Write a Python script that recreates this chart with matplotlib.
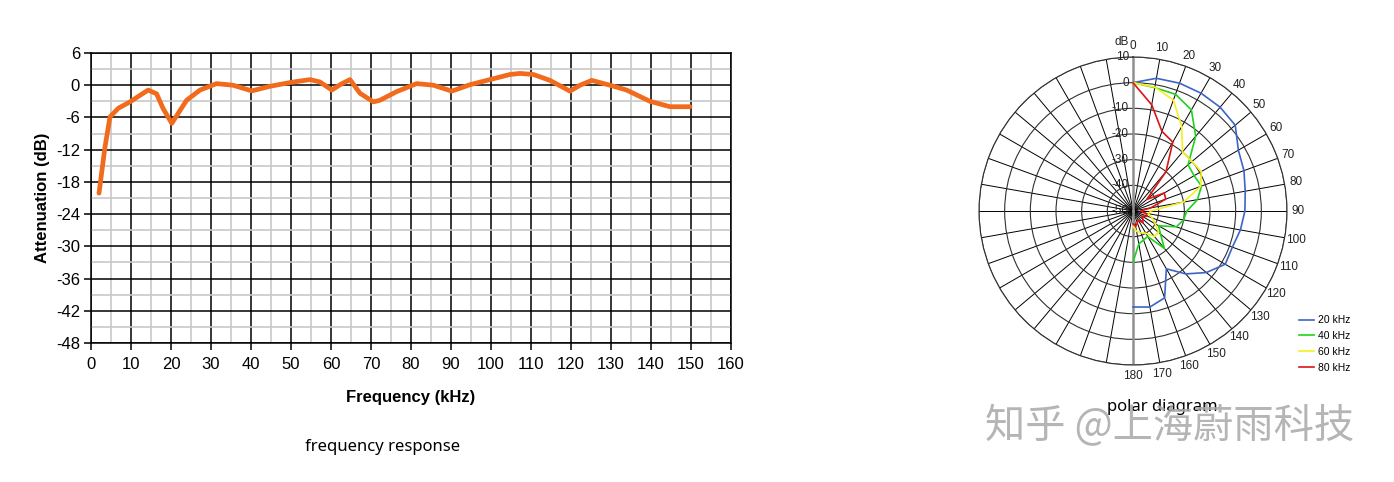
import numpy as np
import matplotlib
matplotlib.use("Agg")
import matplotlib.pyplot as plt
from matplotlib.ticker import MultipleLocator

plt.rcParams['font.family'] = ['Liberation Sans', 'DejaVu Sans']
plt.rcParams['axes.unicode_minus'] = False

# frequency response (kHz, dB)
freq_khz = [2, 3.5, 4.75, 6.8, 9.75, 12, 14.3, 16.4, 18, 20.2, 22, 23.9, 27.25,
            31.4, 35.5, 40.2, 44.75, 49.75, 54.75, 57.25, 60.2, 62.5, 64.75,
            67.25, 70.6, 72.25, 76.4, 81.4, 85.6, 90.2, 94.75, 99.75, 104.75,
            107.25, 110.6, 114.75, 119.75, 122.25, 125.2, 129.75, 133.9,
            139.75, 144.75, 149.75]
atten_db = [-20.1, -11.5, -5.9, -4.3, -3.1, -2.0, -0.9, -1.6, -4.3, -7.1, -5.0,
            -2.8, -0.9, 0.3, 0.0, -1.05, -0.2, 0.5, 1.05, 0.6, -0.9, 0.2, 1.05,
            -1.5, -3.1, -2.8, -1.2, 0.3, 0.0, -1.1, 0.1, 1.05, 2.0, 2.2, 2.0,
            0.9, -1.1, 0.0, 0.9, 0.0, -0.9, -3.0, -4.0, -4.0]

# polar diagram (deg, dB)
angles_deg = list(range(0, 190, 10))
db_20k = [0, 2.5, 3, 3, 2.8, 2, -2.6, -4, -5.6, -6.4, -7.5, -8.8, -8.5, -12.7,
          -18, -24, -14, -12, -12.6]
db_40k = [0, -1.2, -1.6, -4.5, -12, -22, -22.5, -21.6, -24.5, -29, -30, -32,
          -38.5, -36, -31, -38.5, -38, -37, -30]
db_60k = [0, -1, -4, -12, -20, -20, -19.3, -22, -30, -43, -44, -42, -40, -37,
          -37, -40, -41, -42, -44]
db_80k = [0, -8, -17, -19, -30, -43, -36, -36.4, -43, -47, -45, -44, -46, -45,
          -44, -46, -45, -44, -45]
series_labels = ['20 kHz', '40 kHz', '60 kHz', '80 kHz']
series_colors = ['#3c64c8', '#1ed21e', '#f5f01e', '#dc1414']

W, H = 1394, 482
fig = plt.figure(figsize=(W / 100, H / 100), dpi=100)

# ---- left: frequency response
ax = fig.add_axes([91 / W, 1 - 343 / H, 640 / W, 290 / H])
ax.plot(freq_khz, atten_db, color='#f26a1b', lw=3.4,
        solid_joinstyle='round', solid_capstyle='round', zorder=3)
ax.set_xlim(0, 160)
ax.set_ylim(-48, 6)
ax.set_xticks(range(0, 161, 10))
ax.set_yticks(range(-48, 7, 6))
ax.xaxis.set_minor_locator(MultipleLocator(5))
ax.yaxis.set_minor_locator(MultipleLocator(3))
ax.set_axisbelow(True)
ax.grid(which='major', color='black', lw=1.1)
ax.grid(which='minor', color='#c8c8c8', lw=1.2)
ax.tick_params(which='major', length=5, width=1.1, color='black',
               labelsize=12, pad=3)
ax.tick_params(axis='x', pad=5)
ax.tick_params(which='minor', length=0)
for s in ax.spines.values():
    s.set_color('black')
    s.set_linewidth(1.1)
ax.set_xlabel('Frequency (kHz)', fontsize=12, fontweight='bold', labelpad=13)
ax.set_ylabel('Attenuation (dB)', fontsize=12, fontweight='bold', labelpad=4)
fig.text(383 / W, 1 - 447 / H, 'frequency response', ha='center', va='center',
         fontsize=12, family=['Noto Sans', 'DejaVu Sans'])

# ---- right: polar diagram
r = 154
pax = fig.add_axes([(1133 - r) / W, 1 - (211 + r) / H, 2 * r / W, 2 * r / H],
                   projection='polar')
pax.set_theta_zero_location('N')
pax.set_theta_direction(-1)
th = np.radians(angles_deg)
for vals, lab, col in zip([db_20k, db_40k, db_60k, db_80k],
                          series_labels, series_colors):
    pax.plot(th, vals, color=col, lw=1.2, label=lab, zorder=3)
pax.set_ylim(-50, 10)
pax.set_yticks(range(-50, 11, 10))
pax.set_yticklabels([])
grid_angles = list(range(0, 360, 10))
pax.set_thetagrids(grid_angles,
                   [str(a) if a <= 180 else '' for a in grid_angles])
pax.tick_params(axis='x', labelsize=8.5, pad=-2.5, colors='#222222')
pax.xaxis.grid(True, color='black', lw=0.7)
pax.yaxis.grid(True, color='#303030', lw=0.8)
pax.spines['polar'].set_color('#303030')
pax.spines['polar'].set_linewidth(0.8)
pax.axvline(0, color='#909090', lw=1.8, zorder=2)
pax.axvline(np.pi, color='#909090', lw=1.8, zorder=2)
for v in range(-50, 11, 10):
    pax.annotate(str(v), xy=(0, v), xytext=(-4, 0), textcoords='offset pixels',
                 ha='right', va='center', fontsize=8.5, color='#222222')
pax.annotate('dB', xy=(0, 10), xytext=(-4, 15), textcoords='offset pixels',
             ha='right', va='center', fontsize=8.5, color='#222222')

fig.legend(loc='upper left', bbox_to_anchor=(1290 / W, 1 - 306 / H),
           frameon=False, fontsize=7.5, handlelength=1.4, handletextpad=0.4,
           labelspacing=0.55)

fig.text(1162 / W, 1 - 407 / H, 'polar diagram', ha='center', va='center',
         fontsize=12, family=['Noto Sans', 'DejaVu Sans'])
fig.text(1170 / W, 1 - 426 / H, '知乎 @上海蔚雨科技', ha='center', va='center',
         fontsize=29, color='#a8a8a8', alpha=0.85,
         family=['Noto Sans CJK SC', 'DejaVu Sans'])

fig.savefig('out.png', dpi=100)
